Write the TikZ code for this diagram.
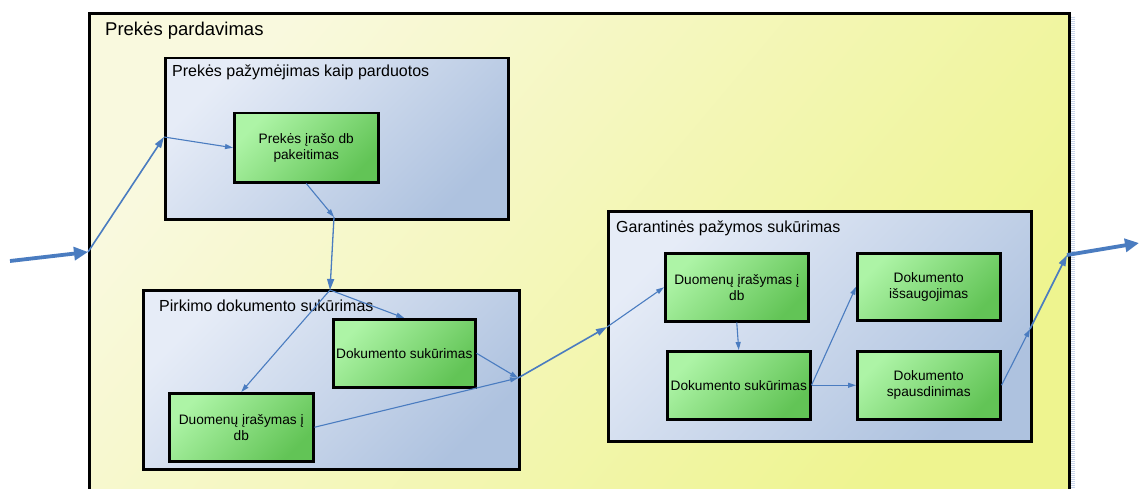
\documentclass[tikz,border=0pt]{standalone}
\usepackage{fontspec}
\setmainfont{Liberation Sans}
\usetikzlibrary{arrows.meta}

\definecolor{flowblue}{HTML}{4A7CC0}
\definecolor{procLight}{HTML}{F9F9DE}
\definecolor{procDark}{HTML}{EEF48F}
\definecolor{subLight}{HTML}{E6ECF7}
\definecolor{subDark}{HTML}{AEC2DF}
\definecolor{taskLight}{HTML}{ADF4A6}
\definecolor{taskDark}{HTML}{62C456}
\definecolor{pageEdge}{HTML}{C9D5EA}

\tikzset{
  procbox/.style={draw=black, line width=3pt, top color=procLight, bottom color=procDark,
    shading angle=50, anchor=north west, inner sep=0pt},
  subbox/.style={draw=black, line width=2.5pt, top color=subLight, bottom color=subDark,
    shading angle=45, anchor=north west, inner sep=0pt},
  taskbox/.style={draw=black, line width=2.5pt, top color=taskLight, bottom color=taskDark,
    shading angle=45, anchor=north west, inner sep=0pt},
  tasktext/.style={align=center, font=\fontsize{13.7}{16}\selectfont, inner sep=0pt},
  boxtitle/.style={anchor=base west, inner sep=0pt, font=\fontsize{16}{19}\selectfont},
  thinflow/.style={draw=flowblue, line width=1.1pt, -{Triangle[length=8pt,width=5pt]}},
  midflow/.style={draw=flowblue, line width=1.6pt, -{Triangle[length=11pt,width=7pt]}},
  thickflow/.style={draw=flowblue, line width=3.8pt, -{Triangle[length=14pt,width=13pt]}},
}

\begin{document}
\begin{tikzpicture}[x=1pt, y=-1pt]
  \clip (0,0) rectangle (1139,489);
  \fill[white] (0,0) rectangle (1139,489);

  % page edge strip
  \draw[pageEdge, line width=4pt, dash pattern=on 1pt off 1pt] (1072.5,17) -- (1072.5,489);

  % main process
  \node[procbox, minimum width=980pt, minimum height=500pt] (P) at (88,12) {};
  \node[boxtitle, font=\fontsize{18.5}{22}\selectfont] (Pt) at (105,36) {Prekės pardavimas};

  % sub-process: marking the item as sold
  \node[subbox, minimum width=343pt, minimum height=161pt] (A) at (164,57) {};
  \node[boxtitle] (At) at (172,77) {Prekės pažymėjimas kaip parduotos};
  \node[taskbox, minimum width=144pt, minimum height=69pt] (A1) at (233,112) {};
  \node[tasktext] (A1t) at (A1.center) {Prekės įrašo db\\pakeitimas};

  % sub-process: purchase document
  \node[subbox, minimum width=376pt, minimum height=179pt] (B) at (142,289) {};
  \node[boxtitle] (Bt) at (159,311) {Pirkimo dokumento sukūrimas};
  \node[taskbox, minimum width=142pt, minimum height=68pt] (B1) at (332,318) {};
  \node[tasktext] (B1t) at (B1.center) {Dokumento sukūrimas};
  \node[taskbox, minimum width=144pt, minimum height=68pt] (B2) at (168,392) {};
  \node[tasktext] (B2t) at (B2.center) {Duomenų įrašymas į\\db};

  % sub-process: warranty certificate
  \node[subbox, minimum width=423pt, minimum height=230pt] (C) at (607,210) {};
  \node[boxtitle] (Ct) at (616,232) {Garantinės pažymos sukūrimas};
  \node[taskbox, minimum width=143pt, minimum height=68pt] (C1) at (664,252) {};
  \node[tasktext] (C1t) at (C1.center) {Duomenų įrašymas į\\db};
  \node[taskbox, minimum width=143pt, minimum height=68pt] (C2) at (666,350) {};
  \node[tasktext] (C2t) at (C2.center) {Dokumento sukūrimas};
  \node[taskbox, minimum width=143pt, minimum height=67pt] (C3) at (856,252) {};
  \node[tasktext] (C3t) at (C3.center) {Dokumento\\išsaugojimas};
  \node[taskbox, minimum width=143pt, minimum height=68pt] (C4) at (856,350) {};
  \node[tasktext] (C4t) at (C4.center) {Dokumento\\spausdinimas};

  % connection points on the frames
  \coordinate (in)  at (10,261);
  \coordinate (jP)  at (88,252);
  \coordinate (jA)  at (164,137);
  \coordinate (jA2) at (334,217);
  \coordinate (jB)  at (330,290);
  \coordinate (jB2) at (518,378);
  \coordinate (jC)  at (607,327);
  \coordinate (jC2) at (1030,329);
  \coordinate (jO)  at (1067,255);
  \coordinate (out) at (1139,243);

  % flows
  \draw[thickflow] (in) -- (jP);
  \draw[midflow] (jP) -- (jA);
  \draw[thinflow] (jA) -- (A1.west);
  \draw[thinflow] (A1.south) -- (jA2);
  \draw[midflow, line width=1.3pt] (jA2) -- (jB);
  \draw[thinflow] (jB) -- (B1.north);
  \draw[thinflow] (jB) -- (B2.north);
  \draw[thinflow] (B1.east) -- (jB2);
  \draw[thinflow] (B2.east) -- (jB2);
  \draw[midflow] (jB2) -- (jC);
  \draw[thinflow] (jC) -- (C1.west);
  \draw[thinflow] (C1.south) -- (C2.north);
  \draw[thinflow] (C2.east) -- (C3.west);
  \draw[thinflow] (C2.east) -- (C4.west);
  \draw[thinflow] (C4.east) -- (jC2);
  \draw[midflow] (jC2) -- (jO);
  \draw[thickflow] (jO) -- (out);
\end{tikzpicture}
\end{document}
